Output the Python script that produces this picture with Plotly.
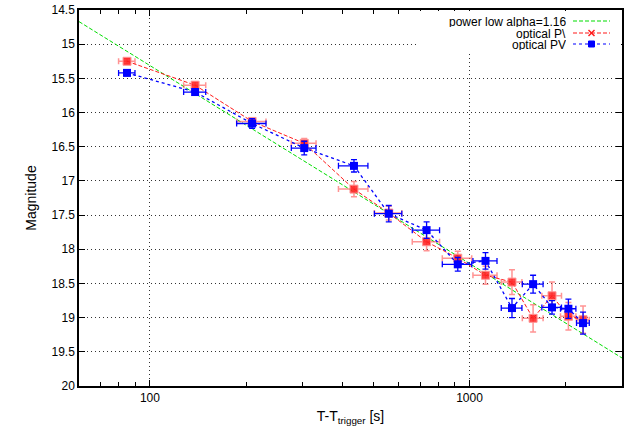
import plotly.graph_objects as go
import numpy as np

# ---- data ----
t_sec = [84.8, 138.5, 208.8, 304, 435, 559, 734, 919, 1122, 1358, 1581, 1812, 2039, 2266]
t_err = [5, 11, 22, 27, 46, 55, 72, 97, 97, 101, 118, 128, 113, 104]
mag_p1 = [15.25, 15.60, 16.13, 16.45, 17.12, 17.47, 17.89, 18.13, 18.38, 18.48, 19.01, 18.68, 18.98, 19.03]
err_p1 = [0.04, 0.05, 0.05, 0.07, 0.11, 0.10, 0.13, 0.10, 0.13, 0.18, 0.20, 0.20, 0.20, 0.20]
mag_p2 = [15.42, 15.70, 16.16, 16.52, 16.78, 17.48, 17.72, 18.22, 18.17, 18.86, 18.51, 18.85, 18.87, 19.08]
err_p2 = [0.04, 0.05, 0.07, 0.10, 0.09, 0.12, 0.12, 0.10, 0.12, 0.14, 0.13, 0.10, 0.14, 0.16]
pl_t = [60, 3000]
pl_mag = [14.67, 19.59]

x_tickvals = [100, 1000]
x_ticktext = ["100", "1000"]
x_minor = [70, 80, 90, 200, 300, 400, 500, 600, 700, 800, 900, 2000, 3000]
legend_names = ["power low alpha=1.16", "optical P\\", "optical PV"]

RED = "#ff1a1a"
BLUE = "#0000ff"
GREEN = "#00dd00"

fig = go.Figure()
fig.add_trace(go.Scatter(
    x=pl_t, y=pl_mag, mode="lines", name=legend_names[0],
    line=dict(color=GREEN, width=1, dash="4px,2px")))
fig.add_trace(go.Scatter(
    x=t_sec, y=mag_p1, mode="lines+markers", name=legend_names[1],
    line=dict(color=RED, width=1, dash="4px,2px"),
    marker=dict(symbol="square", size=8, color="rgba(255,30,30,0.85)",
                line=dict(color="rgba(255,150,150,1)", width=1)),
    error_x=dict(type="data", array=t_err, color="rgba(255,60,60,0.55)", thickness=1.5, width=3),
    error_y=dict(type="data", array=err_p1, color="rgba(255,60,60,0.55)", thickness=1.5, width=3)))
fig.add_trace(go.Scatter(
    x=t_sec, y=mag_p2, mode="lines+markers", name=legend_names[2],
    line=dict(color=BLUE, width=1.3, dash="dot"),
    marker=dict(symbol="square", size=8, color=BLUE),
    error_x=dict(type="data", array=t_err, color=BLUE, thickness=1.3, width=3),
    error_y=dict(type="data", array=err_p2, color=BLUE, thickness=1.3, width=3)))

# ---- custom gnuplot-style legend (text left, sample right) ----
L, R, T, B = 79, 622, 10, 386
W, H = R - L, B - T
def px(x):
    return (x - L) / W
def py(y):
    return 1 - (y - T) / H

shapes = [dict(type="rect", xref="paper", yref="paper", x0=px(418), x1=px(621), y0=py(51), y1=py(11),
               fillcolor="white", line=dict(width=0), layer="above")]
rows = [21, 33, 44]
cols = [GREEN, RED, BLUE]
dashes = ["4px,2px", "4px,2px", "dot"]
for r, c, d in zip(rows, cols, dashes):
    shapes.append(dict(type="line", xref="paper", yref="paper", x0=px(573), x1=px(610), y0=py(r), y1=py(r),
                       line=dict(color=c, width=1.2, dash=d), layer="above"))
cx = 591.5
shapes.append(dict(type="line", xref="paper", yref="paper", x0=px(cx - 3), x1=px(cx + 3), y0=py(rows[1] - 3), y1=py(rows[1] + 3),
                   line=dict(color=RED, width=1.5), layer="above"))
shapes.append(dict(type="line", xref="paper", yref="paper", x0=px(cx - 3), x1=px(cx + 3), y0=py(rows[1] + 3), y1=py(rows[1] - 3),
                   line=dict(color=RED, width=1.5), layer="above"))
shapes.append(dict(type="rect", xref="paper", yref="paper", x0=px(cx - 3), x1=px(cx + 3), y0=py(rows[2] + 3), y1=py(rows[2] - 3),
                   fillcolor=BLUE, line=dict(color=BLUE, width=1), layer="above"))

annotations = []
for r, name in zip(rows, legend_names):
    annotations.append(dict(xref="paper", yref="paper", x=px(567), y=py(r), text=name, showarrow=False,
                            xanchor="right", yanchor="middle", height=11, borderpad=0,
                            font=dict(size=12, color="black")))

fig.update_layout(
    width=632, height=426,
    margin=dict(l=L, r=632 - R, t=T, b=426 - B),
    plot_bgcolor="white", paper_bgcolor="white",
    showlegend=False,
    font=dict(family="Liberation Sans, Arial, sans-serif", size=12, color="black"),
    shapes=shapes, annotations=annotations,
    xaxis=dict(
        type="log", range=[np.log10(60), np.log10(3000)],
        tickvals=x_tickvals, ticktext=x_ticktext,
        ticks="inside", ticklen=6, tickcolor="black", tickwidth=1,
        showline=True, linecolor="black", linewidth=1.5, mirror="ticks",
        showgrid=True, gridcolor="#333", griddash="1px,3px", gridwidth=1,
        zeroline=False,
        minor=dict(tickvals=x_minor, ticks="inside", ticklen=4, tickcolor="black", showgrid=False),
        title=dict(text="T-T<sub>trigger</sub> [s]", standoff=8),
        automargin=False,
    ),
    yaxis=dict(
        range=[20, 14.5], tick0=14.5, dtick=0.5,
        ticks="inside", ticklen=6, tickcolor="black", tickwidth=1,
        showline=True, linecolor="black", linewidth=1.5, mirror="ticks",
        showgrid=True, gridcolor="#333", griddash="1px,3px", gridwidth=1,
        zeroline=False,
        title=dict(text="Magnitude", standoff=12),
        automargin=False,
    ),
)

fig.write_html("out.html", config={"displayModeBar": False},
               post_script="document.body.style.margin='0';")
